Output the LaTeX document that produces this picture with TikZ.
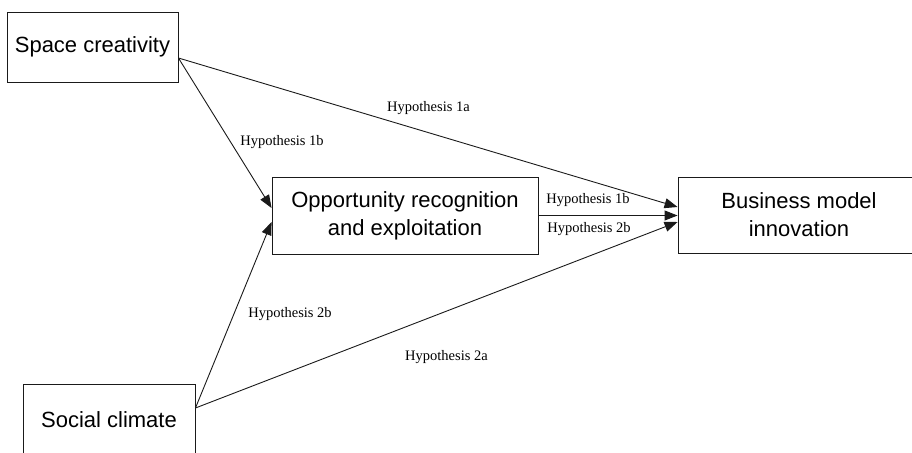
\documentclass[tikz,border=0pt]{standalone}
\usepackage{fontspec}
\setmainfont{Liberation Serif}
\newfontfamily\hv{Liberation Sans}
\usetikzlibrary{arrows.meta}
\definecolor{ln}{HTML}{1A1A1A}
\tikzset{
  box/.style={draw=ln, line width=0.9pt, fill=white, align=center, inner sep=0pt,
    font=\hv\fontsize{22}{28}\selectfont},
  conn/.style={draw=ln, line width=0.9pt, -{Triangle[length=13pt,width=10pt]}},
  hyp/.style={inner sep=0pt, font=\fontsize{14.5}{16}\selectfont}
}
\begin{document}
\begin{tikzpicture}[x=1pt,y=-1pt]
\useasboundingbox (0,0) rectangle (912,452);
\clip (0,0) rectangle (912,452);
\node[box, minimum width=171pt, minimum height=70pt] (sc) at (92.5,47) {Space creativity};
\node[box, minimum width=172pt, minimum height=72pt] (cl) at (109,420) {Social climate};
\node[box, minimum width=266pt, minimum height=77pt] (op) at (405,215.5) {Opportunity recognition\\and exploitation};
\node[box, minimum width=242pt, minimum height=76pt] (bu) at (799,215) {Business model\\innovation};
\draw[conn] ([yshift=-11pt]sc.east) -- ([yshift=7.5pt]op.west);
\draw[conn] ([yshift=-11pt]sc.east) -- ([yshift=8pt]bu.west);
\draw[conn] (op.east) -- (op.east -| bu.west);
\draw[conn] ([yshift=12pt]cl.east) -- ([yshift=-6.5pt]op.west);
\draw[conn] ([yshift=12pt]cl.east) -- ([yshift=-7pt]bu.west);
\node[hyp] (h1a) at (428.5,108) {Hypothesis 1a};
\node[hyp] (h1bl) at (282,142) {Hypothesis 1b};
\node[hyp] (h1br) at (588,200) {Hypothesis 1b};
\node[hyp] (h2br) at (589,229) {Hypothesis 2b};
\node[hyp] (h2bl) at (290,314) {Hypothesis 2b};
\node[hyp] (h2a) at (446.5,357) {Hypothesis 2a};
\end{tikzpicture}
\end{document}
